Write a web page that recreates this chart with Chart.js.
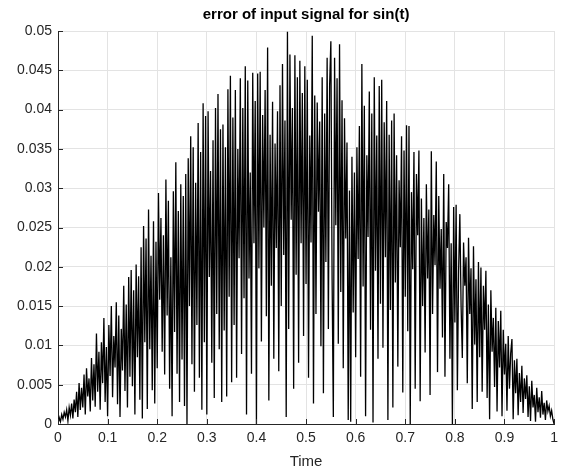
<!DOCTYPE html>
<html>
<head>
<meta charset="utf-8">
<script src="https://cdn.jsdelivr.net/npm/chart.js@4"></script>
<style>
  body { margin: 0; background: #fff; }
  #wrap { width: 564px; height: 473px; }
</style>
</head>
<body>
<div id="wrap"><canvas id="errChart" width="564" height="473"></canvas></div>
<script>
// tick labels of both axes
var xTicks = [0, 0.1, 0.2, 0.3, 0.4, 0.5, 0.6, 0.7, 0.8, 0.9, 1];
var yTicks = [0, 0.005, 0.01, 0.015, 0.02, 0.025, 0.03, 0.035, 0.04, 0.045, 0.05];

// error values, 401 samples from t = 0 to t = 1
var errValues = [
  0.0000, 0.0008, 0.0003, 0.0012, 0.0006, 0.0015, 0.0009, 0.0018, 0.0004, 0.0021, 0.0011, 0.0026, 0.0007, 0.0031, 0.0015, 0.0041, 0.0009, 0.0052, 0.0018, 0.0046,
  0.0021, 0.0063, 0.0012, 0.0071, 0.0035, 0.0058, 0.0016, 0.0084, 0.0030, 0.0076, 0.0022, 0.0115, 0.0041, 0.0092, 0.0018, 0.0104, 0.0052, 0.0135, 0.0028, 0.0098,
  0.0010, 0.0126, 0.0061, 0.0150, 0.0034, 0.0112, 0.0072, 0.0155, 0.0025, 0.0138, 0.0009, 0.0121, 0.0068, 0.0176, 0.0042, 0.0152, 0.0021, 0.0187, 0.0060, 0.0196,
  0.0048, 0.0170, 0.0012, 0.0203, 0.0085, 0.0188, 0.0031, 0.0225, 0.0007, 0.0252, 0.0104, 0.0236, 0.0019, 0.0273, 0.0095, 0.0214, 0.0043, 0.0258, 0.0026, 0.0232,
  0.0071, 0.0294, 0.0158, 0.0262, 0.0092, 0.0240, 0.0063, 0.0311, 0.0138, 0.0284, 0.0045, 0.0212, 0.0010, 0.0296, 0.0117, 0.0333, 0.0064, 0.0271, 0.0028, 0.0305,
  0.0082, 0.0290, 0.0023, 0.0318, 0.0000, 0.0338, 0.0150, 0.0366, 0.0076, 0.0352, 0.0041, 0.0307, 0.0126, 0.0383, 0.0059, 0.0346, 0.0018, 0.0408, 0.0104, 0.0392,
  0.0012, 0.0398, 0.0187, 0.0322, 0.0078, 0.0361, 0.0033, 0.0402, 0.0140, 0.0420, 0.0095, 0.0375, 0.0028, 0.0381, 0.0119, 0.0352, 0.0035, 0.0426, 0.0162, 0.0443,
  0.0053, 0.0390, 0.0126, 0.0425, 0.0059, 0.0350, 0.0211, 0.0440, 0.0089, 0.0402, 0.0160, 0.0455, 0.0012, 0.0437, 0.0185, 0.0320, 0.0064, 0.0447, 0.0230, 0.0411,
  0.0000, 0.0446, 0.0198, 0.0448, 0.0105, 0.0393, 0.0250, 0.0425, 0.0137, 0.0479, 0.0030, 0.0368, 0.0176, 0.0410, 0.0083, 0.0357, 0.0224, 0.0398, 0.0067, 0.0431,
  0.0150, 0.0458, 0.0215, 0.0386, 0.0009, 0.0499, 0.0121, 0.0470, 0.0260, 0.0402, 0.0045, 0.0469, 0.0190, 0.0441, 0.0078, 0.0462, 0.0230, 0.0421, 0.0112, 0.0455,
  0.0178, 0.0438, 0.0059, 0.0367, 0.0231, 0.0494, 0.0026, 0.0418, 0.0140, 0.0409, 0.0270, 0.0385, 0.0099, 0.0441, 0.0039, 0.0395, 0.0206, 0.0466, 0.0121, 0.0430,
  0.0487, 0.0185, 0.0009, 0.0466, 0.0253, 0.0440, 0.0102, 0.0483, 0.0168, 0.0412, 0.0071, 0.0389, 0.0236, 0.0358, 0.0005, 0.0297, 0.0003, 0.0340, 0.0142, 0.0320,
  0.0085, 0.0352, 0.0210, 0.0379, 0.0060, 0.0458, 0.0175, 0.0405, 0.0010, 0.0342, 0.0238, 0.0423, 0.0120, 0.0395, 0.0002, 0.0441, 0.0195, 0.0367, 0.0083, 0.0430,
  0.0153, 0.0438, 0.0097, 0.0384, 0.0212, 0.0411, 0.0005, 0.0368, 0.0145, 0.0386, 0.0021, 0.0395, 0.0180, 0.0342, 0.0073, 0.0310, 0.0225, 0.0366, 0.0040, 0.0348,
  0.0162, 0.0380, 0.0118, 0.0379, 0.0000, 0.0295, 0.0197, 0.0346, 0.0045, 0.0318, 0.0240, 0.0348, 0.0029, 0.0287, 0.0150, 0.0262, 0.0091, 0.0305, 0.0185, 0.0273,
  0.0037, 0.0347, 0.0140, 0.0266, 0.0202, 0.0334, 0.0066, 0.0290, 0.0172, 0.0248, 0.0110, 0.0318, 0.0060, 0.0257, 0.0224, 0.0305, 0.0083, 0.0230, 0.0000, 0.0276,
  0.0129, 0.0279, 0.0043, 0.0195, 0.0267, 0.0150, 0.0084, 0.0231, 0.0176, 0.0212, 0.0052, 0.0237, 0.0140, 0.0198, 0.0019, 0.0226, 0.0101, 0.0184, 0.0028, 0.0206,
  0.0085, 0.0199, 0.0041, 0.0176, 0.0120, 0.0195, 0.0033, 0.0152, 0.0006, 0.0170, 0.0092, 0.0135, 0.0047, 0.0148, 0.0016, 0.0131, 0.0072, 0.0144, 0.0010, 0.0120,
  0.0063, 0.0102, 0.0017, 0.0112, 0.0045, 0.0090, 0.0108, 0.0006, 0.0081, 0.0039, 0.0083, 0.0011, 0.0065, 0.0028, 0.0074, 0.0014, 0.0058, 0.0032, 0.0062, 0.0009,
  0.0048, 0.0004, 0.0055, 0.0021, 0.0037, 0.0003, 0.0046, 0.0015, 0.0034, 0.0008, 0.0042, 0.0012, 0.0027, 0.0005, 0.0030, 0.0016, 0.0023, 0.0010, 0.0017, 0.0006,
  0.0000
];

// sample times, evenly spaced over [0, 1]
var sampleTimes = errValues.map(function (_, i) { return i / (errValues.length - 1); });

var axisColor = '#262626';
var gridColor = '#e3e3e3';
var fontFamily = 'Arial, "Liberation Sans", Helvetica, sans-serif';

// MATLAB draws its tick marks pointing into the plot
var inwardTicks = {
  id: 'inwardTicks',
  afterDraw: function (chart) {
    var ctx = chart.ctx;
    var area = chart.chartArea;
    var xs = chart.scales.x;
    var ys = chart.scales.y;
    ctx.save();
    ctx.strokeStyle = axisColor;
    ctx.lineWidth = 1;
    ctx.beginPath();
    xTicks.forEach(function (v) {
      var px = Math.round(xs.getPixelForValue(v)) + 0.5;
      ctx.moveTo(px, area.bottom);
      ctx.lineTo(px, area.bottom - 5);
    });
    yTicks.forEach(function (v) {
      var py = Math.round(ys.getPixelForValue(v)) + 0.5;
      ctx.moveTo(area.left, py);
      ctx.lineTo(area.left + 5, py);
    });
    ctx.stroke();
    ctx.restore();
  }
};

var ctxErr = document.getElementById('errChart').getContext('2d');

var dataErr = {
  datasets: [{
    label: 'error',
    data: errValues.map(function (v, i) { return { x: sampleTimes[i], y: v }; }),
    borderColor: '#000000',
    borderWidth: 1.3,
    pointRadius: 0,
    tension: 0,
    fill: false
  }]
};

var optionsErr = {
  responsive: false,
  animation: false,
  layout: {
    padding: { left: 0, right: 8, top: 0, bottom: 0 }
  },
  scales: {
    x: {
      type: 'linear',
      min: 0,
      max: 1,
      afterBuildTicks: function (scale) {
        scale.ticks = xTicks.map(function (v) { return { value: v }; });
      },
      afterFit: function (scale) {
        scale.height = 49;
      },
      ticks: {
        color: axisColor,
        font: { family: fontFamily, size: 14 },
        padding: 6,
        maxRotation: 0,
        callback: function (value) { return String(+value.toFixed(1)); }
      },
      grid: { color: gridColor, drawTicks: false },
      border: { color: axisColor, width: 1 },
      title: {
        display: true,
        text: 'Time',
        color: axisColor,
        font: { family: fontFamily, size: 15 },
        padding: { top: 0, bottom: 2 }
      }
    },
    y: {
      type: 'linear',
      min: 0,
      max: 0.05,
      afterBuildTicks: function (scale) {
        scale.ticks = yTicks.map(function (v) { return { value: v }; });
      },
      afterFit: function (scale) {
        scale.width = 58;
      },
      ticks: {
        color: axisColor,
        font: { family: fontFamily, size: 14 },
        padding: 6,
        callback: function (value) { return String(+value.toFixed(3)); }
      },
      grid: { color: gridColor, drawTicks: false },
      border: { color: axisColor, width: 1 }
    }
  },
  plugins: {
    legend: { display: false },
    tooltip: { enabled: false },
    title: {
      display: true,
      fullSize: false,
      text: 'error of input signal for sin(t)',
      color: '#000000',
      font: { family: fontFamily, size: 15, weight: 'bold' },
      padding: { top: 6, bottom: 7 }
    }
  }
};

var ErrChart = new Chart(ctxErr, {
  type: 'line',
  data: dataErr,
  options: optionsErr,
  plugins: [inwardTicks]
});
</script>
</body>
</html>
